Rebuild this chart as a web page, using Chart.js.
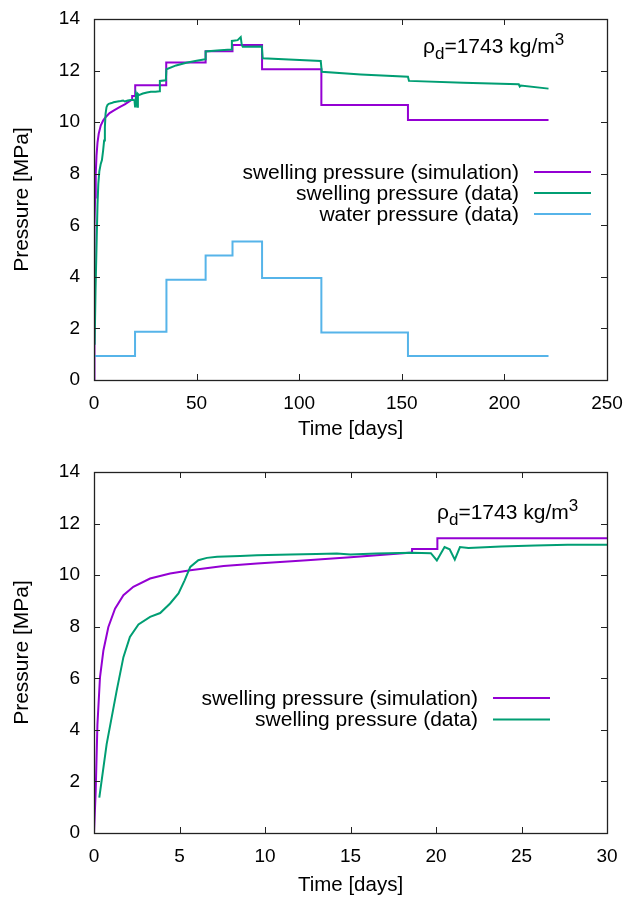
<!DOCTYPE html>
<html>
<head>
<meta charset="utf-8">
<script src="https://cdn.jsdelivr.net/npm/chart.js@4.4.1/dist/chart.umd.min.js"></script>
<style>
  body { margin: 0; background: #fff; }
  canvas { display: block; }
</style>
</head>
<body>
<canvas id="graficaTotal" width="630" height="452"></canvas>
<canvas id="graficaInici" width="630" height="452"></canvas>
<script>
// dades llegides de la figura

const simDays = [0, 0.1, 0.2, 0.35, 0.55, 0.84, 1.23, 1.72, 2.3, 3.28, 4.45, 5.63, 7.58, 9.53, 12.46, 15, 18.6, 18.6, 20.08, 20.08,
  35.2, 35.2, 54.4, 54.4, 67.5, 67.5, 81.9, 81.9, 110.8, 110.8, 153, 153, 221.5];
const simPressure = [0, 1.63, 4.2, 6.04, 7.08, 7.99, 8.7, 9.22, 9.55, 9.87, 10.06, 10.19, 10.35, 10.45, 10.58, 10.69, 10.88, 11.01, 11.01, 11.43,
  11.43, 12.31, 12.31, 12.75, 12.75, 12.99, 12.99, 12.05, 12.05, 10.66, 10.66, 10.08, 10.08];

const dataDays = [0.31, 0.74, 1.33, 1.72, 2.1, 2.6, 3.28, 3.87, 4.45, 4.94, 5.3, 5.63, 6.1, 6.6, 7.2, 8.55, 9.53, 11.5, 13, 14.2,
  15, 16.5, 18.6, 19.7, 20.05, 20.5, 20.8, 21.1, 21.4, 21.9, 23.8, 25.8, 27.7, 30, 32, 32.1, 35, 35.3, 40, 45,
  50, 54.2, 54.4, 60, 66.8, 67.2, 70, 71.5, 72, 72.5, 81.8, 82.2, 95, 110.5, 111, 130, 153, 153.5, 180, 207,
  207.5, 208, 221.5];
const dataPressure = [1.37, 3.45, 5.53, 6.82, 7.6, 8.09, 8.38, 8.53, 8.9, 9.29, 9.8, 10.32, 10.58, 10.67, 10.71, 10.74, 10.77, 10.8, 10.82, 10.84,
  10.8, 10.84, 10.87, 10.85, 10.57, 11.09, 11.0, 10.6, 11.09, 11.05, 11.11, 11.15, 11.18, 11.18, 11.2, 11.6, 11.62, 12.05, 12.2, 12.3,
  12.38, 12.44, 12.74, 12.78, 12.82, 13.15, 13.18, 13.3, 13.0, 12.92, 12.93, 12.48, 12.43, 12.37, 11.95, 11.85, 11.76, 11.6, 11.53, 11.47,
  11.38, 11.42, 11.3];

// pressio d'aigua: nivell que comença a cada dia
const waterDays = [0, 20, 35.3, 54.4, 67.5, 81.9, 110.8, 153, 221.5];
const waterLevels = [0.93, 1.87, 3.89, 4.83, 5.37, 3.96, 1.84, 0.93, 0.93];

const labels = ["swelling pressure (simulation)", "swelling pressure (data)", "water pressure (data)"];
const pressureTicks = [0, 2, 4, 6, 8, 10, 12, 14];
const longTicks = [0, 50, 100, 150, 200, 250];
const shortTicks = [0, 5, 10, 15, 20, 25, 30];

const FONT = '"Liberation Sans", Arial, sans-serif';
Chart.defaults.font.family = FONT;
Chart.defaults.color = "#000";

function toPoints(xs, ys) {
  return xs.map((x, i) => ({ x: x, y: ys[i] }));
}

function stepPoints(days, levels) {
  const pts = [];
  days.forEach((d, i) => {
    if (i > 0) pts.push({ x: d, y: levels[i - 1] });
    pts.push({ x: d, y: levels[i] });
  });
  return pts;
}

// marc i marques cap a dins, com gnuplot
const marc = {
  id: "marc",
  afterDatasetsDraw(chart) {
    const { ctx, chartArea: a, scales } = chart;
    const t = 6;
    ctx.save();
    ctx.strokeStyle = "#222";
    ctx.lineWidth = 1;
    ctx.beginPath();
    scales.x.ticks.forEach(tk => {
      const px = Math.round(scales.x.getPixelForValue(tk.value)) + 0.5;
      ctx.moveTo(px, a.bottom); ctx.lineTo(px, a.bottom - t);
      ctx.moveTo(px, a.top); ctx.lineTo(px, a.top + t);
    });
    scales.y.ticks.forEach(tk => {
      const py = Math.round(scales.y.getPixelForValue(tk.value)) + 0.5;
      ctx.moveTo(a.left, py); ctx.lineTo(a.left + t, py);
      ctx.moveTo(a.right, py); ctx.lineTo(a.right - t, py);
    });
    ctx.stroke();
    ctx.lineWidth = 1.3;
    ctx.strokeRect(Math.round(a.left) + 0.5, Math.round(a.top) + 0.5, Math.round(a.width), Math.round(a.height));
    ctx.restore();
  }
};

const llegenda = {
  id: "llegenda",
  afterDraw(chart, args, opts) {
    const ctx = chart.ctx;
    ctx.save();
    ctx.font = "21px " + FONT;
    ctx.fillStyle = "#000";
    ctx.textAlign = "right";
    ctx.textBaseline = "middle";
    chart.data.datasets.forEach((ds, i) => {
      const y = opts.y + i * opts.gap;
      ctx.fillText(ds.label, opts.textRight, y + 1);
      ctx.strokeStyle = ds.borderColor;
      ctx.lineWidth = 2;
      ctx.beginPath();
      ctx.moveTo(opts.lineFrom, y);
      ctx.lineTo(opts.lineTo, y);
      ctx.stroke();
    });
    // ρd=1743 kg/m3
    let x = opts.noteX;
    const b = opts.noteY;
    ctx.textAlign = "left";
    ctx.textBaseline = "alphabetic";
    ctx.fillText("ρ", x, b);
    x += ctx.measureText("ρ").width;
    ctx.font = "17px " + FONT;
    ctx.fillText("d", x, b + 6);
    x += ctx.measureText("d").width;
    ctx.font = "21px " + FONT;
    ctx.fillText("=1743 kg/m", x, b);
    x += ctx.measureText("=1743 kg/m").width;
    ctx.font = "17px " + FONT;
    ctx.fillText("3", x, b - 8);
    ctx.restore();
  }
};

function makeConfig(datasets, xMax, xTicks, area, legendOpts) {
  return {
    type: "line",
    data: { datasets: datasets },
    options: {
      responsive: false,
      animation: false,
      devicePixelRatio: 1,
      layout: { padding: { left: 0, right: 630 - area.right, top: area.top, bottom: 0 } },
      plugins: { legend: { display: false }, tooltip: { enabled: false }, llegenda: legendOpts },
      elements: { point: { radius: 0 }, line: { borderWidth: 2, tension: 0 } },
      scales: {
        x: {
          type: "linear", min: 0, max: xMax,
          grid: { display: false, drawTicks: false }, border: { display: false },
          afterBuildTicks: s => { s.ticks = xTicks.map(v => ({ value: v })); },
          afterFit: s => { s.height = 452 - area.bottom; s.paddingLeft = 0; s.paddingRight = 0; },
          ticks: { font: { size: 19 }, padding: area.tickPad, maxRotation: 0 },
          title: { display: true, text: "Time [days]", font: { size: 20.5 }, padding: { top: 0, bottom: area.titlePad } }
        },
        y: {
          min: 0, max: 14,
          grid: { display: false, drawTicks: false }, border: { display: false },
          afterBuildTicks: s => { s.ticks = pressureTicks.map(v => ({ value: v })); },
          afterFit: s => { s.width = area.left; s.paddingTop = 0; s.paddingBottom = 0; },
          ticks: { font: { size: 19 }, padding: 14 },
          title: { display: true, text: "Pressure [MPa]", font: { size: 21 }, padding: { top: 10, bottom: 0 } }
        }
      }
    },
    plugins: [marc, llegenda]
  };
}

const simSet = () => ({ label: labels[0], data: toPoints(simDays, simPressure), borderColor: "#9400d3", order: 3 });
const dataSet = () => ({ label: labels[1], data: toPoints(dataDays, dataPressure), borderColor: "#009e73", order: 2 });
const waterSet = () => ({ label: labels[2], data: stepPoints(waterDays, waterLevels), borderColor: "#56b4e9", order: 1 });

let graficaTotal = new Chart(document.getElementById("graficaTotal"),
  makeConfig([simSet(), dataSet(), waterSet()], 250, longTicks,
    { left: 94, right: 607, top: 19, bottom: 380, tickPad: 12, titlePad: 10 },
    { y: 172, gap: 21, textRight: 519, lineFrom: 534, lineTo: 591, noteX: 423, noteY: 53 }));

let graficaInici = new Chart(document.getElementById("graficaInici"),
  makeConfig([simSet(), dataSet()], 30, shortTicks,
    { left: 94, right: 607, top: 20, bottom: 381, tickPad: 12, titlePad: 6 },
    { y: 246, gap: 21.6, textRight: 478, lineFrom: 493, lineTo: 550, noteX: 437, noteY: 67 }));
</script>
</body>
</html>
